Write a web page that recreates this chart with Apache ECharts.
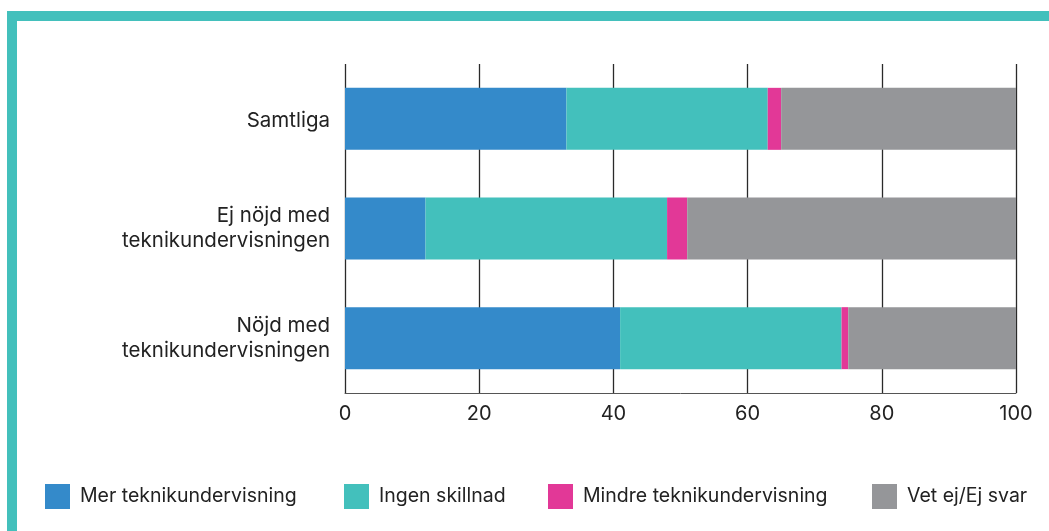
<!DOCTYPE html>
<html>
<head>
<meta charset="utf-8">
<script src="https://cdn.jsdelivr.net/npm/echarts@6/dist/echarts.min.js"></script>
<style>
html,body{margin:0;padding:0;background:#fff;}
#chart{width:1049px;height:531px;}
</style>
</head>
<body>
<div id="chart"></div>
<script>
const categories = ['Samtliga', 'Ej nöjd med\nteknikundervisningen', 'Nöjd med\nteknikundervisningen'];
const seriesNames = ['Mer teknikundervisning', 'Ingen skillnad', 'Mindre teknikundervisning', 'Vet ej/Ej svar'];
const merValues = [33, 12, 41];
const ingenValues = [30, 36, 33];
const mindreValues = [2, 3, 1];
const vetejValues = [35, 49, 25];
const xTicks = [0, 20, 40, 60, 80, 100];
const colors = ['#348ACA', '#43C0BC', '#E23897', '#959699'];

const allValues = [merValues, ingenValues, mindreValues, vetejValues];
const font = 'Inter, "Noto Sans", sans-serif';

const chart = echarts.init(document.getElementById('chart'), null, {renderer: 'canvas'});
const legendX = [45, 344, 548, 872];

chart.setOption({
  animation: false,
  backgroundColor: '#ffffff',
  graphic: [
    {type: 'rect', shape: {x: 7, y: 11, width: 1042, height: 10}, style: {fill: '#43C0BC'}},
    {type: 'rect', shape: {x: 7, y: 11, width: 10, height: 520}, style: {fill: '#43C0BC'}}
  ],
  grid: {left: 345, right: 33, top: 64, bottom: 138},
  legend: seriesNames.map((n, i) => ({
    data: [n],
    left: legendX[i],
    top: 484,
    padding: 0,
    itemWidth: 25,
    itemHeight: 25,
    itemGap: 0,
    icon: 'rect',
    selectedMode: false,
    textStyle: {fontFamily: font, fontSize: 19.5, color: '#222', padding: [0, 0, 0, 5]}
  })),
  xAxis: {
    type: 'value',
    min: xTicks[0],
    max: xTicks[xTicks.length - 1],
    interval: 20,
    axisLine: {show: true, lineStyle: {color: '#555', width: 1}},
    axisTick: {show: false},
    axisLabel: {fontFamily: font, fontSize: 20, color: '#222', margin: 11},
    splitLine: {show: true, lineStyle: {color: '#2a2a2a', width: 1.3}}
  },
  yAxis: {
    type: 'category',
    data: categories,
    inverse: true,
    axisLine: {show: false},
    axisTick: {show: false},
    axisLabel: {
      fontFamily: font, fontSize: 20.5, color: '#222', margin: 15, lineHeight: 25, align: 'right',
      formatter: v => v.indexOf('\n') < 0 ? '{s|' + v + '}' : v,
      rich: {s: {fontFamily: font, fontSize: 20.5, color: '#222', padding: [5, 0, 0, 0]}}
    }
  },
  series: seriesNames.map((n, i) => ({
    name: n,
    type: 'bar',
    stack: 'total',
    barWidth: 62,
    itemStyle: {color: colors[i]},
    data: allValues[i]
  }))
});
</script>
</body>
</html>
